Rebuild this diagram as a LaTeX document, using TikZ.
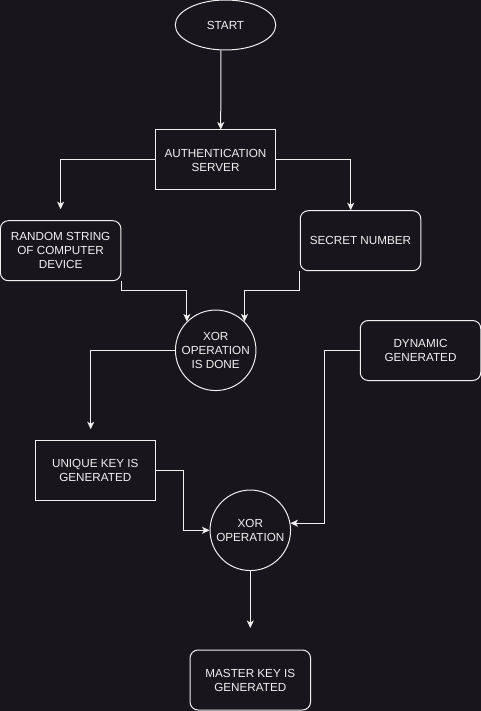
\documentclass[tikz,border=0pt]{standalone}
\usepackage{fontspec}
\setmainfont{Liberation Sans}
\usetikzlibrary{shapes.geometric,arrows.meta,calc}
\definecolor{bgcol}{RGB}{24,21,29}
\definecolor{fg}{RGB}{240,240,240}
\tikzset{
  base/.style={draw=fg, line width=1pt, text=fg, inner sep=0pt, align=center,
    font=\fontsize{11.7}{14}\selectfont},
  sqbox/.style={base, rectangle, minimum width=120.5pt, minimum height=60pt},
  rbox/.style={sqbox, rounded corners=8pt},
  xorc/.style={base, circle, minimum size=80.5pt},
  oval/.style={base, ellipse, minimum width=100.5pt, minimum height=50pt},
  arr/.style={draw=fg, line width=1pt, -{Stealth[length=7.5pt,width=7pt,inset=2pt]}},
}
\begin{document}
\begin{tikzpicture}[x=1pt,y=-1pt]
\fill[bgcol] (0,0) rectangle (481,711);
\useasboundingbox (0,0) rectangle (481,711);

\node[oval] (start) at (225.5,25) {START};
\node[sqbox] (auth) at (215.5,160) {AUTHENTICATION\\SERVER};
\node[rbox] (random) at (60.6,250.7) {RANDOM STRING\\OF COMPUTER\\DEVICE};
\node[rbox] (secret) at (360.5,240.7) {SECRET NUMBER};
\node[xorc] (xor1) at (215.7,350.3) {XOR\\OPERATION\\IS DONE};
\node[rbox] (dynamic) at (420.5,350.5) {DYNAMIC\\GENERATED};
\node[sqbox] (unique) at (95.3,470.7) {UNIQUE KEY IS\\GENERATED};
\node[xorc] (xor2) at (250.3,530.3) {XOR\\OPERATION};
\node[rbox] (master) at (250.3,680) {MASTER KEY IS\\GENERATED};

\draw[arr] ([xshift=-4.6pt]start.south) -- ([xshift=5.2pt]auth.north);
\draw[arr, shorten >=11pt] (auth.west) -| (random.north);
\draw[arr] (auth.east) -| ([xshift=-9.8pt]secret.north);
\draw[arr] (random.south east) -- ++(0,9.3) -| (xor1.135.8);
\draw[arr] (secret.south west) -- ++(0,19.3) -| (xor1.45.6);
\draw[arr, shorten >=11pt] (xor1.west) -| ([xshift=-4.6pt]unique.north);
\draw[arr] (dynamic.west) -- ++(-35.4,0) |- (xor2.10);
\draw[arr] (unique.east) -- ++(27,0) |- (xor2.west);
\draw[arr, shorten >=21.5pt] (xor2.south) -- (master.north);
\end{tikzpicture}
\end{document}
